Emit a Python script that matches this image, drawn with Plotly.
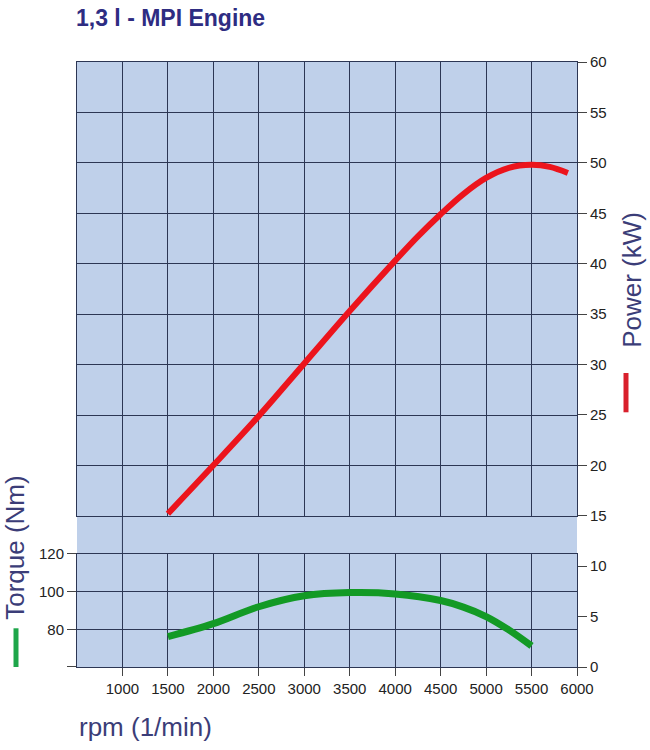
import plotly.graph_objects as go

# ---- data ----
rpm_power = [1500, 2000, 2500, 3000, 3500, 4000, 4250, 4500, 4750, 5000, 5250, 5500, 5700, 5900]
power_kw = [15.2, 20.0, 24.9, 30.1, 35.3, 40.3, 42.7, 44.9, 46.9, 48.5, 49.5, 49.8, 49.6, 49.0]

rpm_torque = [1500, 2000, 2500, 3000, 3500, 4000, 4500, 4750, 5000, 5250, 5500]
torque_nm = [76.1, 83.0, 92.0, 97.8, 99.5, 98.8, 95.3, 91.8, 86.8, 79.7, 71.2]

rpm_ticks = [1000, 1500, 2000, 2500, 3000, 3500, 4000, 4500, 5000, 5500, 6000]
power_ticks = list(range(0, 61, 5))
torque_ticks = [60, 80, 100, 120]
torque_ticktext = ["", "80", "100", "120"]

title_text = "1,3 l - MPI Engine"
x_title = "rpm (1/min)"
power_title = "Power (kW)"
torque_title = "Torque (Nm)"

# ---- style ----
BG = "#bfd0ea"
GRID = "#2c3654"
TICKC = "#444"
NAVY = "#3b3d78"
FONT = "Liberation Sans, Arial, sans-serif"

low_top = 0.1868   # torque panel top (paper)
up_bot = 0.2496    # power grid panel bottom (paper)

fig = go.Figure()

fig.add_trace(go.Scatter(x=rpm_torque, y=torque_nm, xaxis="x", yaxis="y2",
                         mode="lines", line=dict(color="#139a25", width=7, shape="spline", smoothing=1.0),
                         showlegend=False, hoverinfo="skip"))
fig.add_trace(go.Scatter(x=rpm_power, y=power_kw, xaxis="x3", yaxis="y3",
                         mode="lines", line=dict(color="#ec141c", width=6, shape="spline"),
                         showlegend=False, hoverinfo="skip"))
# invisible helper so the upper grid subplot exists
fig.add_trace(go.Scatter(x=[None], y=[None], xaxis="x2", yaxis="y",
                         mode="lines", showlegend=False, hoverinfo="skip"))

grid_common = dict(showgrid=True, gridcolor=GRID, gridwidth=1, zeroline=False,
                   showline=True, linecolor=GRID, linewidth=1, mirror=True)

fig.update_layout(
    width=650, height=750,
    margin=dict(l=77, r=73, t=62, b=83),
    paper_bgcolor="white",
    plot_bgcolor="rgba(0,0,0,0)",
    font=dict(family=FONT, size=14, color="#222"),
    xaxis=dict(domain=[0, 1], range=[500, 6000], anchor="y2",
               tickvals=rpm_ticks, ticks="outside", ticklen=8, tickcolor=TICKC,
               tickfont=dict(size=15, color="#222"), **grid_common),
    xaxis2=dict(domain=[0, 1], range=[500, 6000], anchor="y", matches="x",
                tickvals=rpm_ticks, showticklabels=False, ticks="", **grid_common),
    xaxis3=dict(domain=[0, 1], range=[500, 6000], anchor="y3", matches="x",
                visible=False, showgrid=False),
    yaxis=dict(domain=[up_bot, 1], range=[15, 60], anchor="x2",
               tickvals=power_ticks, showticklabels=False, ticks="", **grid_common),
    yaxis2=dict(domain=[0, low_top], range=[60, 120], anchor="x", side="left",
                tickvals=torque_ticks, ticktext=torque_ticktext,
                ticks="outside", ticklen=9, tickcolor=TICKC,
                tickfont=dict(size=15, color="#222"), **grid_common),
    yaxis3=dict(domain=[0, 1], range=[0, 60], anchor="x3", side="right",
                tickvals=power_ticks, ticks="outside", ticklen=9, tickcolor=TICKC,
                tickfont=dict(size=15, color="#222"),
                showgrid=False, zeroline=False, showline=False),
    shapes=[
        dict(type="rect", xref="paper", yref="paper", x0=0, x1=1, y0=0, y1=1,
             fillcolor=BG, line=dict(width=0), layer="below"),
        dict(type="line", xref="x", yref="paper", x0=1000, x1=1000, y0=low_top, y1=up_bot,
             line=dict(color=GRID, width=1), layer="below"),
        # legend bars
        dict(type="line", xref="paper", yref="paper", x0=1.098, x1=1.098, y0=0.421, y1=0.486,
             line=dict(color="#d9202c", width=5)),
        dict(type="line", xref="paper", yref="paper", x0=-0.122, x1=-0.122, y0=0.0, y1=0.064,
             line=dict(color="#1ea64a", width=5)),
    ],
    annotations=[
        dict(text="<b>" + title_text + "</b>", xref="paper", yref="paper",
             x=-0.006, y=1.0, xanchor="left", yanchor="bottom", yshift=29,
             showarrow=False, font=dict(size=23, color="#2e2c82", family=FONT)),
        dict(text=x_title, xref="paper", yref="paper", x=0, y=0, xanchor="left",
             yanchor="middle", yshift=-60, showarrow=False,
             font=dict(size=26, color=NAVY, family=FONT)),
        dict(text=power_title, xref="paper", yref="paper", x=1.11, y=0.64,
             xanchor="center", yanchor="middle", textangle=-90, showarrow=False,
             font=dict(size=26, color=NAVY, family=FONT)),
        dict(text=torque_title, xref="paper", yref="paper", x=-0.124, y=0.197,
             xanchor="center", yanchor="middle", textangle=-90, showarrow=False,
             font=dict(size=26, color=NAVY, family=FONT)),
    ],
)

fig.write_html("out.html")
